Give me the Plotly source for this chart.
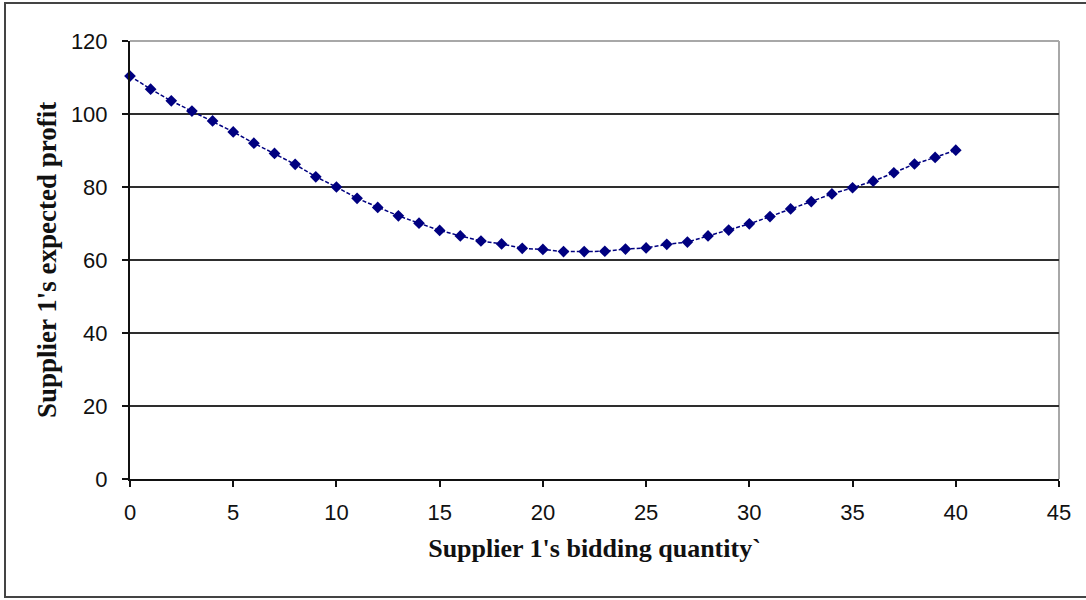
import plotly.graph_objects as go

# Supplier 1's bidding quantity and the resulting expected profit
quantity = list(range(0, 41))
expected_profit = [
    110.4, 106.8, 103.6, 100.8, 98.1, 95.1, 92.0, 89.2, 86.2, 82.8,
    80.0, 76.9, 74.4, 72.1, 70.1, 68.1, 66.6, 65.2, 64.4, 63.2,
    62.9, 62.3, 62.3, 62.4, 63.0, 63.3, 64.3, 64.9, 66.6, 68.2,
    69.9, 71.9, 74.0, 76.0, 78.1, 79.8, 81.6, 83.9, 86.3, 88.1,
    90.1,
]

x_ticks = [0, 5, 10, 15, 20, 25, 30, 35, 40, 45]
y_ticks = [0, 20, 40, 60, 80, 100, 120]

x_title = "Supplier 1's bidding quantity`"
y_title = "Supplier 1's expected profit"

NAVY = "#000080"
TICK_FONT = dict(family="Liberation Sans, Arial, sans-serif", size=22, color="#111111")
X_TITLE_FONT = dict(family="Liberation Serif, Times New Roman, serif", size=26, color="#111111")
Y_TITLE_FONT = dict(family="Liberation Serif, Times New Roman, serif", size=27, color="#111111")

fig = go.Figure()
fig.add_trace(go.Scatter(
    x=quantity,
    y=expected_profit,
    mode="lines+markers",
    line=dict(color=NAVY, width=1.5, dash="4px,2px"),
    marker=dict(symbol="diamond", size=9, color=NAVY),
    showlegend=False,
    cliponaxis=False,
))

fig.update_layout(
    width=1086,
    height=600,
    paper_bgcolor="white",
    plot_bgcolor="white",
    margin=dict(l=130, r=27, t=41, b=121),
    xaxis=dict(
        range=[0, 45],
        tickvals=x_ticks,
        ticks="outside",
        ticklen=6,
        tickwidth=1.5,
        tickcolor="#111111",
        showline=True,
        linecolor="#111111",
        linewidth=2,
        showgrid=False,
        zeroline=False,
        tickfont=TICK_FONT,
        ticklabelstandoff=7,
        title=dict(text="<b>" + x_title + "</b>", font=X_TITLE_FONT, standoff=14),
    ),
    yaxis=dict(
        range=[0, 120],
        tickvals=y_ticks,
        ticks="outside",
        ticklen=6,
        tickwidth=1.5,
        tickcolor="#111111",
        showline=True,
        linecolor="#111111",
        linewidth=2,
        showgrid=True,
        gridcolor="#2e2e2e",
        gridwidth=1.5,
        zeroline=False,
        tickfont=TICK_FONT,
        ticklabelstandoff=10,
        title=dict(text="<b>" + y_title + "</b>", font=Y_TITLE_FONT, standoff=6),
    ),
    shapes=[
        # light frame on the top and right of the plot area
        dict(type="line", xref="paper", yref="paper", x0=0, x1=1, y0=1, y1=1,
             line=dict(color="#a8a8a8", width=2), layer="below"),
        dict(type="line", xref="paper", yref="paper", x0=1, x1=1, y0=0, y1=1,
             line=dict(color="#a8a8a8", width=2), layer="below"),
        # outer chart border
        dict(type="rect", xref="paper", yref="paper",
             x0=(5 - 130) / 929, x1=(1092 - 130) / 929,
             y0=(479 - 597) / 438, y1=(479 - 3) / 438,
             line=dict(color="#444444", width=2), fillcolor="rgba(0,0,0,0)"),
    ],
)

fig.write_html("out.html")
